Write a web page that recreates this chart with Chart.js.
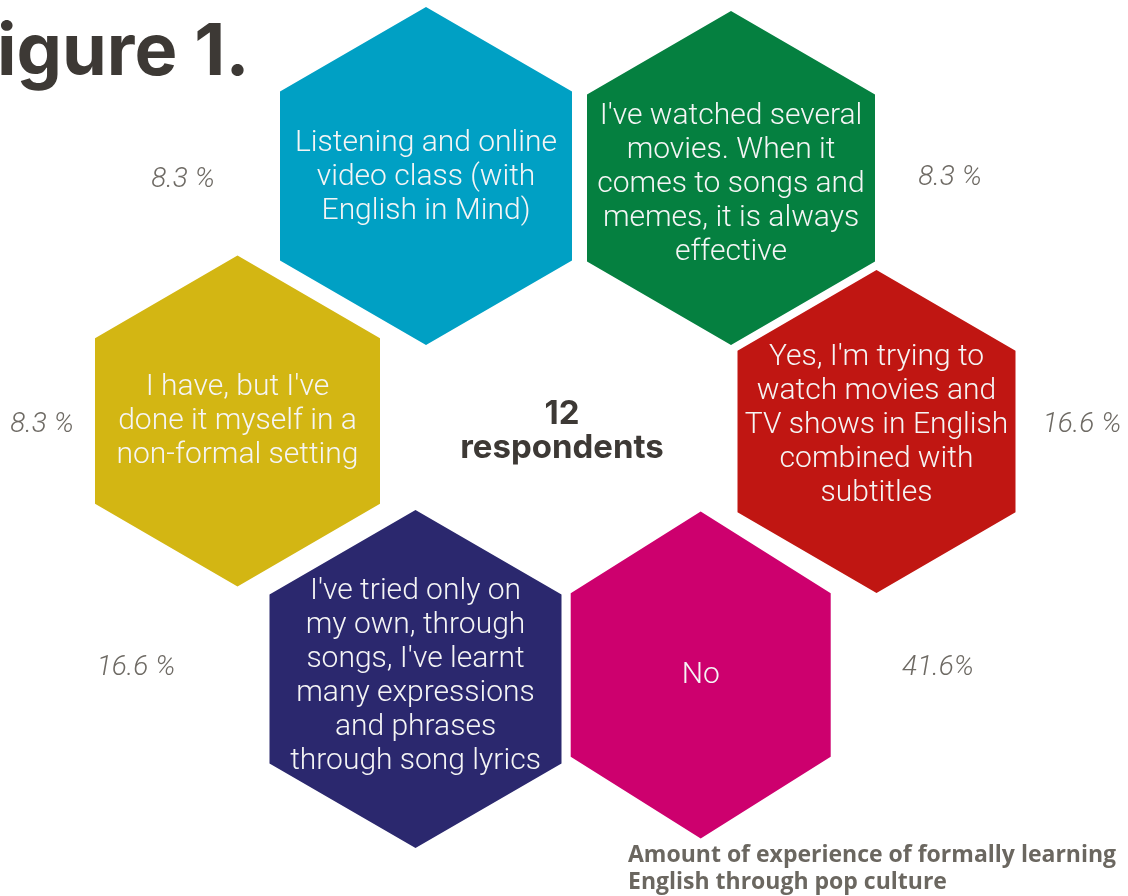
<!DOCTYPE html>
<html>
<head>
<meta charset="utf-8">
<script src="https://cdn.jsdelivr.net/npm/chart.js@4.4.0/dist/chart.umd.min.js"></script>
<style>
html, body { margin: 0; padding: 0; background: #fff; }
#wrap { width: 1128px; height: 896px; }
</style>
</head>
<body>
<div id="wrap"><canvas id="hexChart"></canvas></div>
<script>
// answers (one hexagon each), share of the 12 respondents
var answers = [
  ["Listening and online", "video class (with", "English in Mind)"],
  ["I've watched several", "movies. When it", "comes to songs and", "memes, it is always", "effective"],
  ["I have, but I've", "done it myself in a", "non-formal setting"],
  ["Yes, I'm trying to", "watch movies and", "TV shows in English", "combined with", "subtitles"],
  ["I've tried only on", "my own, through", "songs, I've learnt", "many expressions", "and phrases", "through song lyrics"],
  ["No"]
];
var shares = [8.3, 8.3, 8.3, 16.6, 16.6, 41.6];
var shareLabels = ["8.3 %", "8.3 %", "8.3 %", "16.6 %", "16.6 %", "41.6%"];
var respondents = 12;

// layout of the honeycomb (axis units = pixels)
var hexX = [426, 731, 237.5, 876.5, 415.5, 700.7];
var hexY = [176, 178, 421, 431.5, 679, 675];
var hexR = [169, 167, 165.5, 161.5, 169, 163.5];
var hexHalfW = [146, 144, 142.5, 139, 146, 130];
var textY = [177, 184, 421, 425, 676, 675];
var labelX = [183, 950, 42, 1082, 136, 938];
var labelY = [180, 178, 425, 425, 668, 668];
var colors = ['#00a0c4', '#058040', '#d3b613', '#c01612', '#2b286e', '#cd006e'];

function hexPoints(i) {
  var x = hexX[i], y = hexY[i], r = hexR[i], w = hexHalfW[i];
  return [
    {x: x, y: y - r}, {x: x + w, y: y - r / 2}, {x: x + w, y: y + r / 2},
    {x: x, y: y + r}, {x: x - w, y: y + r / 2}, {x: x - w, y: y - r / 2},
    {x: x, y: y - r}
  ];
}

var datasets = answers.map(function (a, i) {
  return {
    label: shareLabels[i],
    data: hexPoints(i),
    showLine: true,
    fill: 'shape',
    backgroundColor: colors[i],
    borderColor: colors[i],
    borderWidth: 0,
    pointRadius: 0,
    tension: 0
  };
});

var textPlugin = {
  id: 'hexText',
  afterDatasetsDraw: function (chart) {
    var ctx = chart.ctx, xs = chart.scales.x, ys = chart.scales.y;
    ctx.save();
    ctx.textAlign = 'center';
    ctx.textBaseline = 'middle';

    // answers inside the hexagons
    ctx.fillStyle = '#f5f5f5';
    ctx.font = '300 30px Roboto';
    answers.forEach(function (lines, i) {
      var first = textY[i] - (lines.length - 1) * 34 / 2;
      lines.forEach(function (line, j) {
        ctx.fillText(line, xs.getPixelForValue(hexX[i]), ys.getPixelForValue(first + j * 34));
      });
    });

    // percentages
    ctx.fillStyle = '#6e6a64';
    ctx.font = 'italic 300 28px Roboto';
    shareLabels.forEach(function (t, i) {
      ctx.fillText(t, xs.getPixelForValue(labelX[i]), ys.getPixelForValue(labelY[i]));
    });

    // centre
    ctx.fillStyle = '#3d3935';
    ctx.font = '700 33px Inter';
    ctx.fillText(String(respondents), xs.getPixelForValue(562), ys.getPixelForValue(414));
    ctx.fillText('respondents', xs.getPixelForValue(562), ys.getPixelForValue(448));

    // title, cut off at the left edge
    ctx.textAlign = 'left';
    ctx.textBaseline = 'alphabetic';
    ctx.font = '700 72px Inter';
    var fw = ctx.measureText('F').width;
    ctx.fillText('Figure 1.', xs.getPixelForValue(0) - fw - 3, ys.getPixelForValue(75));

    // caption
    ctx.fillStyle = '#6b6760';
    ctx.font = '700 23px "Open Sans"';
    ctx.textBaseline = 'middle';
    ctx.fillText('Amount of experience of formally learning', xs.getPixelForValue(628), ys.getPixelForValue(855));
    ctx.fillText('English through pop culture', xs.getPixelForValue(628), ys.getPixelForValue(882));
    ctx.restore();
  }
};

new Chart(document.getElementById('hexChart').getContext('2d'), {
  type: 'scatter',
  data: { datasets: datasets },
  options: {
    responsive: true,
    maintainAspectRatio: false,
    animation: false,
    events: [],
    layout: { padding: 0 },
    scales: {
      x: { type: 'linear', min: 0, max: 1128, display: false },
      y: { type: 'linear', min: 0, max: 896, reverse: true, display: false }
    },
    plugins: {
      legend: { display: false },
      tooltip: { enabled: false }
    }
  },
  plugins: [textPlugin]
});
</script>
</body>
</html>
